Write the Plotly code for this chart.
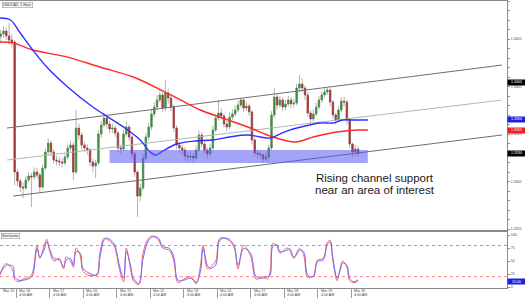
import plotly.graph_objects as go

# ---------------- data ----------------
# 2-hour candles, x = trading hours since Mar 15 4:00 AM
candle_hours = list(range(13, 270, 2))
closes = [1.34563, 1.34594, 1.34542, 1.34499, 1.34478, 1.33110, 1.33015, 1.32952, 1.32942, 1.33026,
          1.33068, 1.33058, 1.33110, 1.33078, 1.32952, 1.33152, 1.33321, 1.33415, 1.33321, 1.33236,
          1.33226, 1.33215, 1.33205, 1.33268, 1.33363, 1.33394, 1.33110, 1.33573, 1.33499, 1.33394,
          1.33363, 1.33342, 1.33215, 1.33173, 1.33205, 1.33510, 1.33605, 1.33678, 1.33615, 1.33563,
          1.33573, 1.33521, 1.33363, 1.33352, 1.33510, 1.33584, 1.33478, 1.33300, 1.33110, 1.32857,
          1.32942, 1.33257, 1.33478, 1.33584, 1.33721, 1.33794, 1.33868, 1.33921, 1.33784, 1.33942,
          1.33889, 1.33794, 1.33573, 1.33394, 1.33363, 1.33342, 1.33278, 1.33268, 1.33278, 1.33257,
          1.33342, 1.33499, 1.33405, 1.33342, 1.33300, 1.33363, 1.33552, 1.33678, 1.33731, 1.33700,
          1.33615, 1.33584, 1.33689, 1.33721, 1.33763, 1.33815, 1.33868, 1.33784, 1.33805, 1.33742,
          1.33447, 1.33310, 1.33300, 1.33289, 1.33247, 1.33268, 1.33363, 1.33710, 1.33900, 1.33815,
          1.33868, 1.33794, 1.33826, 1.33868, 1.33826, 1.33836, 1.33994, 1.34036, 1.33994, 1.33921,
          1.33731, 1.33668, 1.33721, 1.33794, 1.33868, 1.33921, 1.33952, 1.33973, 1.33847, 1.33710,
          1.33657, 1.33763, 1.33857, 1.33847, 1.33657, 1.33405, 1.33321, 1.33352, 1.33302]
first_open = 1.34540
highs = [1.34610, 1.34640, 1.34630, 1.34678, 1.34560, 1.34500, 1.33140, 1.33040, 1.33000, 1.33070,
         1.33110, 1.33100, 1.33160, 1.33150, 1.33100, 1.33190, 1.33360, 1.33468, 1.33440, 1.33350,
         1.33280, 1.33270, 1.33250, 1.33300, 1.33400, 1.33440, 1.33420, 1.33763, 1.33620, 1.33530,
         1.33430, 1.33400, 1.33370, 1.33250, 1.33240, 1.33550, 1.33650, 1.33731, 1.33700, 1.33650,
         1.33620, 1.33600, 1.33540, 1.33400, 1.33560, 1.33640, 1.33610, 1.33500, 1.33320, 1.33130,
         1.32990, 1.33300, 1.33520, 1.33630, 1.33770, 1.33840, 1.33920, 1.33980, 1.33950, 1.34078,
         1.33990, 1.33920, 1.33820, 1.33600, 1.33430, 1.33400, 1.33370, 1.33320, 1.33330, 1.33310,
         1.33390, 1.33550, 1.33530, 1.33430, 1.33370, 1.33410, 1.33600, 1.33720, 1.33868, 1.33780,
         1.33720, 1.33650, 1.33740, 1.33770, 1.33810, 1.33860, 1.33889, 1.33880, 1.33850, 1.33830,
         1.33760, 1.33470, 1.33350, 1.33340, 1.33310, 1.33320, 1.33400, 1.33750, 1.33994, 1.33930,
         1.33910, 1.33900, 1.33870, 1.33910, 1.33900, 1.33880, 1.34040, 1.34131, 1.34100, 1.34020,
         1.33950, 1.33760, 1.33770, 1.33840, 1.33910, 1.33960, 1.33990, 1.33994, 1.33990, 1.33870,
         1.33730, 1.33800, 1.33900, 1.33900, 1.33870, 1.33680, 1.33420, 1.33400, 1.33380]
lows = [1.34480, 1.34520, 1.34500, 1.34450, 1.34420, 1.32973, 1.32960, 1.32900, 1.32836, 1.32920,
        1.33000, 1.32742, 1.33030, 1.33040, 1.32900, 1.32930, 1.33130, 1.33290, 1.33280, 1.33200,
        1.33180, 1.33170, 1.33160, 1.33180, 1.33240, 1.33330, 1.33026, 1.33090, 1.33450, 1.33350,
        1.33320, 1.33290, 1.33170, 1.33110, 1.33047, 1.33180, 1.33470, 1.33580, 1.33570, 1.33520,
        1.33520, 1.33480, 1.33320, 1.33300, 1.33330, 1.33480, 1.33440, 1.33260, 1.33060, 1.32636,
        1.32800, 1.32920, 1.33230, 1.33440, 1.33550, 1.33690, 1.33760, 1.33840, 1.33740, 1.33750,
        1.33830, 1.33750, 1.33530, 1.33350, 1.33310, 1.33290, 1.33230, 1.33210, 1.33220, 1.33200,
        1.33230, 1.33320, 1.33370, 1.33300, 1.33250, 1.33270, 1.33340, 1.33530, 1.33650, 1.33660,
        1.33580, 1.33540, 1.33560, 1.33660, 1.33700, 1.33740, 1.33790, 1.33740, 1.33750, 1.33700,
        1.33400, 1.33270, 1.33250, 1.33240, 1.33210, 1.33220, 1.33205, 1.33340, 1.33680, 1.33770,
        1.33790, 1.33750, 1.33760, 1.33800, 1.33780, 1.33790, 1.33810, 1.33950, 1.33950, 1.33870,
        1.33690, 1.33620, 1.33640, 1.33700, 1.33770, 1.33840, 1.33890, 1.33920, 1.33800, 1.33670,
        1.33610, 1.33640, 1.33740, 1.33800, 1.33610, 1.33360, 1.33268, 1.33280, 1.33268]

# moving averages
ma_fast_hours = [12, 20, 27, 36, 46, 61, 79, 91, 104, 113, 120, 124, 129, 139, 152, 165, 177, 190,
                 199, 206, 213, 220, 231, 242, 251, 258, 268, 276]
ma_fast = [1.34731, 1.34710, 1.34573, 1.34394, 1.34215, 1.34005, 1.33794, 1.33678, 1.33552, 1.33447,
           1.33321, 1.33289, 1.33331, 1.33405, 1.33436, 1.33447, 1.33479, 1.33500, 1.33479, 1.33468,
           1.33510, 1.33552, 1.33594, 1.33626, 1.33626, 1.33657, 1.33657, 1.33657]
ma_slow_hours = [12, 22, 36, 61, 84, 108, 132, 142, 156, 172, 190, 208, 224, 237, 254, 268, 276]
ma_slow = [1.34478, 1.34468, 1.34394, 1.34320, 1.34215, 1.34110, 1.33942, 1.33868, 1.33763, 1.33678,
           1.33584, 1.33479, 1.33426, 1.33479, 1.33531, 1.33552, 1.33552]

# rising channel (start/end hours and prices)
channel_hours = [17.5, 372.1]
channel_upper = [1.33573, 1.34236]
channel_mid = [1.33236, 1.33868]
channel_lower_hours = [21.8, 372.1]
channel_lower = [1.32857, 1.33500]

# area of interest
zone_hours = [91, 276]
zone_prices = [1.33205, 1.33342]

# stochastic
stoch_hours = [12, 15, 17, 20, 22, 23, 26, 29, 34, 36, 39, 41, 44, 46, 48, 51, 55, 58, 60, 63, 65, 67,
               70, 72, 77, 82, 84, 87, 89, 94, 98, 101, 103, 106, 108, 112, 115, 119, 122, 126, 129,
               134, 137, 140, 144, 149, 153, 156, 158, 161, 163, 167, 170, 175, 180, 183, 187, 192,
               196, 201, 204, 206, 208, 211, 213, 218, 220, 223, 225, 227, 230, 233, 237, 240, 244,
               247, 249, 251, 254, 256, 258, 261, 263, 266, 269]
stoch_d = [23, 36, 42, 42, 39, 20, 13, 13, 17, 23, 74, 58, 71, 87, 74, 55, 52, 39, 52, 55, 42, 68,
           65, 36, 26, 23, 55, 90, 94, 84, 42, 17, 68, 42, 17, 7, 55, 90, 97, 94, 78,
           74, 58, 13, 13, 17, 10, 29, 74, 42, 36, 42, 90, 94, 81, 42, 74, 65,
           20, 17, 20, 23, 78, 81, 68, 71, 74, 58, 62, 71, 68, 23, 20, 49, 52,
           81, 87, 55, 17, 30, 46, 42, 17, 10, 14]
stoch_k = [20, 40, 45, 38, 30, 15, 10, 15, 20, 30, 80, 55, 78, 92, 70, 50, 55, 35, 58, 50, 38, 75,
           60, 30, 22, 25, 65, 94, 92, 80, 35, 10, 75, 35, 12, 5, 65, 94, 98, 90, 75,
           70, 50, 8, 15, 20, 6, 40, 80, 35, 38, 50, 94, 92, 78, 35, 80, 60,
           15, 20, 15, 30, 84, 78, 65, 75, 70, 55, 66, 74, 62, 18, 22, 52, 55,
           86, 90, 50, 12, 35, 50, 38, 12, 8, 12]

price_ticks = [1.3251, 1.3301, 1.3351, 1.3401, 1.3451]
stoch_ticks = [0, 25, 50, 75, 100]
stoch_levels = [80, 20]
day_tick_hours = [24, 48, 72, 96, 120, 144, 168, 192, 216, 240, 264]
day_labels = ["Mar 16", "Mar 17", "Mar 20", "Mar 21", "Mar 22", "Mar 23", "Mar 24",
              "Mar 27", "Mar 28", "Mar 29", "Mar 30"]
time_label = "4:00 AM"
first_label = "Mar 15"
first_label_hour = 12.5

price_tags = [(1.3366, "1.3366", "#1f1fe0"), (1.3355, "1.3355", "#ee1c1c"),
              (1.3330, "1.3330", "#000000"), (1.3405, "1.3405", "#000000")]
stoch_tag = (11, "10.00", "#1f1fe0")

# ---------------- figure ----------------
opens = [first_open] + closes[:-1]
body_hi = [max(o, c) for o, c in zip(opens, closes)]
body_lo = [min(o, c) for o, c in zip(opens, closes)]

XR = [12.5, 375.7]
FONT = "Liberation Sans, Arial"
fig = go.Figure()

# wicks (gray)
fig.add_trace(go.Candlestick(
    x=candle_hours, open=opens, high=highs, low=lows, close=closes,
    increasing=dict(line=dict(color="#b4b4b4", width=1), fillcolor="#b4b4b4"),
    decreasing=dict(line=dict(color="#b4b4b4", width=1), fillcolor="#b4b4b4"),
    whiskerwidth=0, showlegend=False, hoverinfo="skip", xaxis="x", yaxis="y"))
# bodies (colored)
fig.add_trace(go.Candlestick(
    x=candle_hours, open=opens, high=body_hi, low=body_lo, close=closes,
    increasing=dict(line=dict(color="#3a913a", width=0.6), fillcolor="#3a913a"),
    decreasing=dict(line=dict(color="#a53838", width=0.6), fillcolor="#a53838"),
    whiskerwidth=0, showlegend=False, hoverinfo="skip", xaxis="x", yaxis="y"))

# channel lines
fig.add_trace(go.Scatter(x=channel_hours, y=channel_upper, mode="lines",
                         line=dict(color="#6e6e6e", width=1), showlegend=False))
fig.add_trace(go.Scatter(x=channel_hours, y=channel_mid, mode="lines",
                         line=dict(color="#b5b5b5", width=1), showlegend=False))
fig.add_trace(go.Scatter(x=channel_lower_hours, y=channel_lower, mode="lines",
                         line=dict(color="#6e6e6e", width=1), showlegend=False))

# moving averages
fig.add_trace(go.Scatter(x=ma_slow_hours, y=ma_slow, mode="lines", line_shape="spline",
                         line=dict(color="#ff2a2a", width=1.4), showlegend=False))
fig.add_trace(go.Scatter(x=ma_fast_hours, y=ma_fast, mode="lines", line_shape="spline",
                         line=dict(color="#2f2fff", width=1.4), showlegend=False))

# stochastic
for lvl, col in zip(stoch_levels, ["#7a7aff", "#ff6a6a"]):
    fig.add_trace(go.Scatter(x=XR, y=[lvl, lvl], mode="lines", xaxis="x2", yaxis="y2",
                             line=dict(color=col, width=0.8, dash="dot"), showlegend=False))
fig.add_trace(go.Scatter(x=stoch_hours, y=stoch_k, mode="lines", xaxis="x2", yaxis="y2",
                         line=dict(color="#ff6060", width=1), line_shape="spline", showlegend=False))
fig.add_trace(go.Scatter(x=stoch_hours, y=stoch_d, mode="lines", xaxis="x2", yaxis="y2",
                         line=dict(color="#6a6aff", width=1), line_shape="spline", showlegend=False))

# area of interest
fig.add_shape(type="rect", xref="x", yref="y", x0=zone_hours[0], x1=zone_hours[1],
              y0=zone_prices[0], y1=zone_prices[1], fillcolor="rgba(90,90,238,0.55)",
              line=dict(width=0), layer="above")

ann = []
ann.append(dict(text="Rising channel support", x=237.5, y=1.33047, xref="x", yref="y",
                xanchor="left", yanchor="middle", showarrow=False,
                font=dict(family=FONT, size=11.5, color="#1a1a1a")))
ann.append(dict(text="near an area of interest", x=236.5, y=1.32921, xref="x", yref="y",
                xanchor="left", yanchor="middle", showarrow=False,
                font=dict(family=FONT, size=11.5, color="#1a1a1a")))
# title box
ann.append(dict(text="USDCAD, 1 Hour", x=0.003, y=0.997, xref="paper", yref="paper",
                xanchor="left", yanchor="top", showarrow=False, bordercolor="#888", borderwidth=0.5,
                borderpad=0.5, bgcolor="#f4f4f4",
                font=dict(family=FONT, size=3.6, color="#333")))
ann.append(dict(text="Stochastic", x=0.002, y=0.192, xref="paper", yref="paper",
                xanchor="left", yanchor="top", showarrow=False, bordercolor="#888", borderwidth=0.5,
                borderpad=0.5, bgcolor="#f4f4f4",
                font=dict(family=FONT, size=3.6, color="#333")))
# price tags
for val, txt, col in price_tags:
    ann.append(dict(text=txt, x=1, y=val, xref="paper", yref="y", xanchor="left",
                    yanchor="middle", showarrow=False, bgcolor=col, width=17, height=4.5,
                    borderpad=0, font=dict(family=FONT, size=3.6, color="white")))
ann.append(dict(text=stoch_tag[1], x=1, y=stoch_tag[0], xref="paper", yref="y2", xanchor="left",
                yanchor="middle", showarrow=False, bgcolor=stoch_tag[2], width=17, height=5,
                borderpad=0, font=dict(family=FONT, size=3.6, color="white")))
# date labels (two rows, left-aligned right of each tick)
for h, d in zip(day_tick_hours, day_labels):
    ann.append(dict(text=d, x=h, y=-0.0105, xref="x2", yref="paper", xanchor="left",
                    yanchor="middle", xshift=1, showarrow=False,
                    font=dict(family=FONT, size=3.6, color="#444")))
    ann.append(dict(text=time_label, x=h, y=-0.0255, xref="x2", yref="paper", xanchor="left",
                    yanchor="middle", xshift=1, showarrow=False,
                    font=dict(family=FONT, size=3.6, color="#444")))
ann.append(dict(text=first_label, x=first_label_hour, y=-0.0105, xref="x2", yref="paper",
                xanchor="left", yanchor="middle", xshift=1, showarrow=False,
                font=dict(family=FONT, size=3.6, color="#444")))

axis_common = dict(showgrid=False, zeroline=False, showline=True, linecolor="#8a8a8a",
                   linewidth=1, mirror=True)
fig.update_layout(
    width=525, height=298, margin=dict(l=0, r=18, t=1, b=10),
    paper_bgcolor="white", plot_bgcolor="white",
    xaxis=dict(domain=[0, 1], range=XR, anchor="y", showticklabels=False, ticks="",
               rangeslider=dict(visible=False), **axis_common),
    yaxis=dict(domain=[0.2021, 1], range=[1.32500, 1.34910], side="right", anchor="x",
               tickvals=price_ticks, ticktext=[f"{v:.4f}" for v in price_ticks],
               ticks="outside", ticklen=2, tickcolor="#8a8a8a",
               minor=dict(tick0=1.3251, dtick=0.001, ticks="outside", ticklen=2, tickcolor="#8a8a8a"),
               tickfont=dict(family=FONT, size=3.6, color="#444"),
               **axis_common),
    xaxis2=dict(domain=[0, 1], range=XR, anchor="y2", tickvals=day_tick_hours,
                showticklabels=False, ticks="outside", ticklen=10, tickcolor="#9a9a9a",
                **axis_common),
    yaxis2=dict(domain=[0, 0.195], range=[-1.9, 105.8], side="right", anchor="x2",
                tickvals=stoch_ticks, ticks="outside", ticklen=2, tickcolor="#8a8a8a",
                tickfont=dict(family=FONT, size=3.6, color="#444"),
                **axis_common),
    annotations=ann,
)

fig.write_html("out.html")
